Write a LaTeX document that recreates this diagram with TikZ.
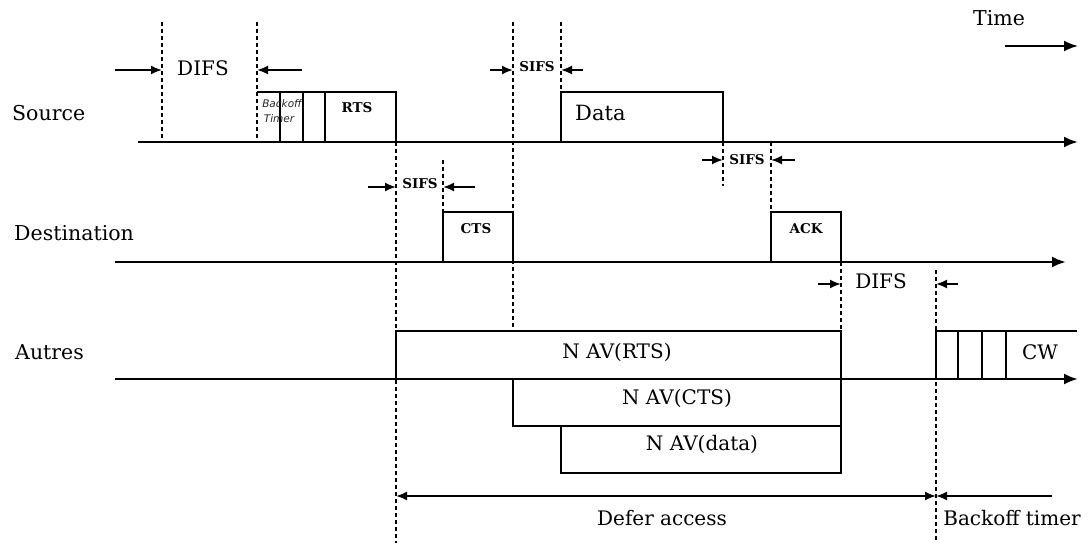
\documentclass[tikz,border=0pt]{standalone}
\usepackage{fontspec}
\setmainfont{DejaVu Serif}
\newfontfamily\bkfont{DejaVu Sans}
\usetikzlibrary{arrows.meta}
\begin{document}
\begin{tikzpicture}[x=1pt,y=-1pt,
 axis/.style={line width=2.4pt,-{Latex[length=14pt,width=11pt]}},
 box/.style={line width=1.9pt},
 dsh/.style={line width=1.9pt,dash pattern=on 4pt off 3pt},
 iv/.style={line width=1.9pt,-{Latex[length=11pt,width=9pt]}},
 lbl/.style={font=\fontsize{20.5}{24}\selectfont, inner sep=0pt},
 mid/.style={font=\fontsize{20}{24}\selectfont, inner sep=0pt},
 sm/.style={font=\bfseries\fontsize{13.5}{16}\selectfont, inner sep=0pt},
 bko/.style={font=\bkfont\itshape\fontsize{10.5}{12}\selectfont,inner sep=0pt,text=black!85},
]
\useasboundingbox (0,0) rectangle (1092,543);
% row labels
\node[lbl,anchor=west] (src) at (12,113) {Source};
\node[lbl,anchor=west] (dst) at (14,233) {Destination};
\node[lbl,anchor=west] (oth) at (15,352) {Autres};
\node[lbl] (time) at (999,18) {Time};
\draw[axis,line width=1.9pt] (1005,46) -- (1078,46);
% time axes
\draw[axis] (138,142) -- (1078,142);
\draw[axis] (115,262) -- (1066,262);
\draw[axis] (115,379) -- (1078,379);
% dashed markers
\draw[dsh] (162,22) -- (162,142);
\draw[dsh] (257,22) -- (257,142);
\draw[dsh] (396,142) -- (396,543);
\draw[dsh] (513,22) -- (513,332);
\draw[dsh] (561,22) -- (561,92);
\draw[dsh] (723,142) -- (723,186);
\draw[dsh] (771,142) -- (771,212);
\draw[dsh] (443,160) -- (443,212);
\draw[dsh] (841,262) -- (841,331);
\draw[dsh] (936,270) -- (936,543);
% source frames
\draw[box] (257,92) -- (396,92) -- (396,142);
\foreach \xx in {280,303,325} \draw[box] (\xx,92) -- (\xx,142);
\node[bko] (bk1) at (282,104) {Backoff};
\node[bko] (bk2) at (279,119) {Timer};
\node[sm] (rts) at (357,108) {RTS};
\draw[box] (561,142) -- (561,92) -- (723,92) -- (723,142);
\node[font=\fontsize{21}{24}\selectfont,inner sep=0pt,anchor=west] (data) at (575,113) {Data};
% destination frames
\draw[box] (443,262) -- (443,212) -- (513,212) -- (513,262);
\node[sm] (cts) at (476,229) {CTS};
\draw[box] (771,262) -- (771,212) -- (841,212) -- (841,262);
\node[sm] (ack) at (806,229) {ACK};
% NAV
\draw[box] (396,379) -- (396,331) -- (841,331) -- (841,379);
\node[mid] (nav1) at (617,352) {N AV(RTS)};
\draw[box] (513,379) -- (513,426) -- (841,426) -- (841,379);
\node[mid] (nav2) at (677,398) {N AV(CTS)};
\draw[box] (561,426) -- (561,473) -- (841,473) -- (841,426);
\node[mid] (nav3) at (702,444) {N AV(data)};
% CW
\draw[box] (936,379) -- (936,331) -- (1077,331);
\foreach \xx in {958,982,1006} \draw[box] (\xx,331) -- (\xx,379);
\node[mid] (cw) at (1040,352) {CW};
% interval arrows
\draw[iv] (115,70) -- (162,70);
\draw[iv] (302,70) -- (257,70);
\node[mid] (difs1) at (203,68) {DIFS};
\draw[iv] (490,70) -- (513,70);
\draw[iv] (583,70) -- (561,70);
\node[sm] (sifs1) at (537,67) {SIFS};
\draw[iv] (368,187) -- (396,187);
\draw[iv] (475,187) -- (443,187);
\node[sm] (sifs2) at (420,184) {SIFS};
\draw[iv] (702,160) -- (723,160);
\draw[iv] (795,160) -- (771,160);
\node[sm] (sifs3) at (747,160) {SIFS};
\draw[iv] (818,284) -- (841,284);
\draw[iv] (958,284) -- (936,284);
\node[mid] (difs2) at (881,281) {DIFS};
% bottom
\draw[line width=1.9pt,{Latex[length=11pt,width=9pt]}-{Latex[length=11pt,width=9pt]}] (396,496) -- (936,496);
\draw[iv] (1052,496) -- (936,496);
\node[mid] (defer) at (662,518) {Defer access};
\node[mid] (boff) at (1012,518) {Backoff timer};
\end{tikzpicture}
\end{document}
